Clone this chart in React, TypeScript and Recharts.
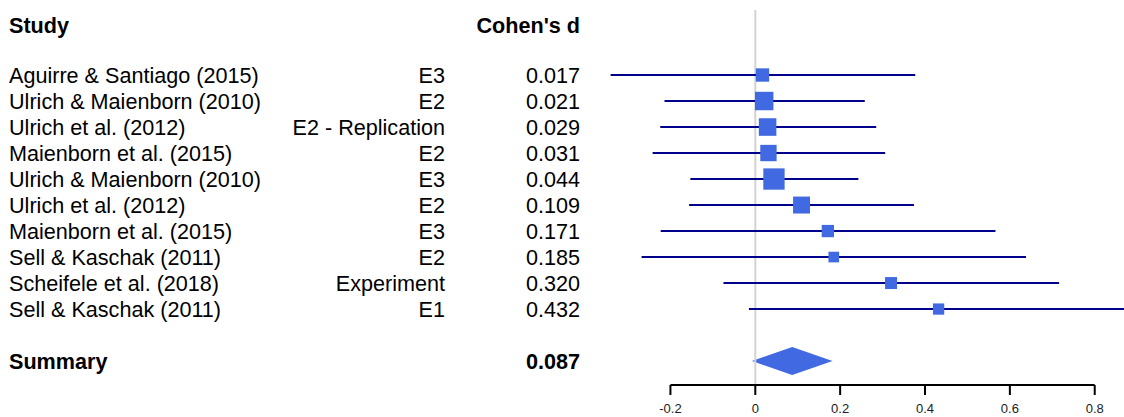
import { ComposedChart, Scatter, ErrorBar, Area, XAxis, YAxis, ReferenceLine } from 'recharts';

// forest plot values
const studies = [
  'Aguirre & Santiago (2015)',
  'Ulrich & Maienborn (2010)',
  'Ulrich et al. (2012)',
  'Maienborn et al. (2015)',
  'Ulrich & Maienborn (2010)',
  'Ulrich et al. (2012)',
  'Maienborn et al. (2015)',
  'Sell & Kaschak (2011)',
  'Scheifele et al. (2018)',
  'Sell & Kaschak (2011)',
];
const experiments = ['E3', 'E2', 'E2 - Replication', 'E2', 'E3', 'E2', 'E3', 'E2', 'Experiment', 'E1'];
const cohensD = [0.017, 0.021, 0.029, 0.031, 0.044, 0.109, 0.171, 0.185, 0.32, 0.432];
const ciLower = [-0.341, -0.214, -0.224, -0.242, -0.153, -0.156, -0.223, -0.268, -0.075, -0.015];
const ciUpper = [0.377, 0.258, 0.285, 0.306, 0.243, 0.374, 0.566, 0.638, 0.716, 0.88];
const weights = [8.9, 12.3, 11.7, 10.9, 14.2, 11.3, 8.2, 7.1, 8.0, 7.5];

const summaryD = 0.087;
const summaryLower = -0.008;
const summaryUpper = 0.182;

const xTicks = [-0.2, 0, 0.2, 0.4, 0.6, 0.8];

const HEADER_ROW = 0;
const FIRST_ROW = 2;
const SUMMARY_ROW = 13;

const studyData = studies.map((name, i) => ({
  x: cohensD[i],
  row: FIRST_ROW + i,
  ci: [cohensD[i] - ciLower[i], ciUpper[i] - cohensD[i]],
  weight: weights[i],
}));

const diamondData = [
  { x: summaryLower, band: [SUMMARY_ROW, SUMMARY_ROW] },
  { x: summaryD, band: [SUMMARY_ROW - 0.54, SUMMARY_ROW + 0.54] },
  { x: summaryUpper, band: [SUMMARY_ROW, SUMMARY_ROW] },
];

const rowTicks = [HEADER_ROW, ...studyData.map((d) => d.row), SUMMARY_ROW];

const FONT = '"Liberation Sans", Arial, sans-serif';
const NAME_X = 9;
const EXP_X = 445;
const VALUE_X = 580;

function RowLabel(props: any) {
  const { y, payload } = props;
  const row = payload.value;
  const common = { fontFamily: FONT, fontSize: 21.6, fill: '#000', dy: '0.355em' };
  if (row === HEADER_ROW) {
    return (
      <g>
        <text {...common} x={NAME_X} y={y + 2} fontWeight="bold">Study</text>
        <text {...common} x={VALUE_X} y={y + 2} textAnchor="end" fontWeight="bold">Cohen's d</text>
      </g>
    );
  }
  if (row === SUMMARY_ROW) {
    return (
      <g>
        <text {...common} x={NAME_X} y={y} fontWeight="bold">Summary</text>
        <text {...common} x={VALUE_X} y={y} textAnchor="end" fontWeight="bold">{summaryD.toFixed(3)}</text>
      </g>
    );
  }
  const i = row - FIRST_ROW;
  return (
    <g>
      <text {...common} x={NAME_X} y={y}>{studies[i]}</text>
      <text {...common} x={EXP_X} y={y} textAnchor="end">{experiments[i]}</text>
      <text {...common} x={VALUE_X} y={y} textAnchor="end">{cohensD[i].toFixed(3)}</text>
    </g>
  );
}

function WeightSquare(props: any) {
  const { cx, cy, payload } = props;
  const side = payload.weight * 1.5;
  return <rect x={cx - side / 2} y={cy - side / 2} width={side} height={side} fill="#4169E1" />;
}

export default function App() {
  return (
    <div style={{ position: 'absolute', left: 0, top: 0, background: '#fff' }}>
      <ComposedChart width={1124} height={417} margin={{ top: 10, right: 0, bottom: 0, left: 0 }}>
        <XAxis
          type="number"
          dataKey="x"
          domain={[-0.366, 0.869]}
          allowDataOverflow
          ticks={xTicks}
          interval={0}
          axisLine={false}
          tickLine={{ stroke: '#000', strokeWidth: 2 }}
          tickSize={10}
          tickMargin={9}
          height={32}
          tick={{ fontSize: 13, fill: '#222', fontFamily: FONT }}
        />
        <YAxis
          type="number"
          dataKey="row"
          domain={[-0.5, 13.92]}
          reversed
          allowDataOverflow
          ticks={rowTicks}
          interval={0}
          width={600}
          axisLine={false}
          tickLine={false}
          tick={RowLabel}
        />
        <ReferenceLine x={0} stroke="#d3d3d3" strokeWidth={2} />
        <ReferenceLine
          segment={[
            { x: -0.2, y: 13.92 },
            { x: 0.8, y: 13.92 },
          ]}
          stroke="#000"
          strokeWidth={2}
          ifOverflow="visible"
        />
        <Area
          data={diamondData}
          dataKey="band"
          type="linear"
          stroke="none"
          fill="#4169E1"
          fillOpacity={1}
          isAnimationActive={false}
        />
        <Scatter data={studyData} shape={WeightSquare} isAnimationActive={false}>
          <ErrorBar dataKey="ci" direction="x" width={0} stroke="#00008B" strokeWidth={2} />
        </Scatter>
      </ComposedChart>
    </div>
  );
}
